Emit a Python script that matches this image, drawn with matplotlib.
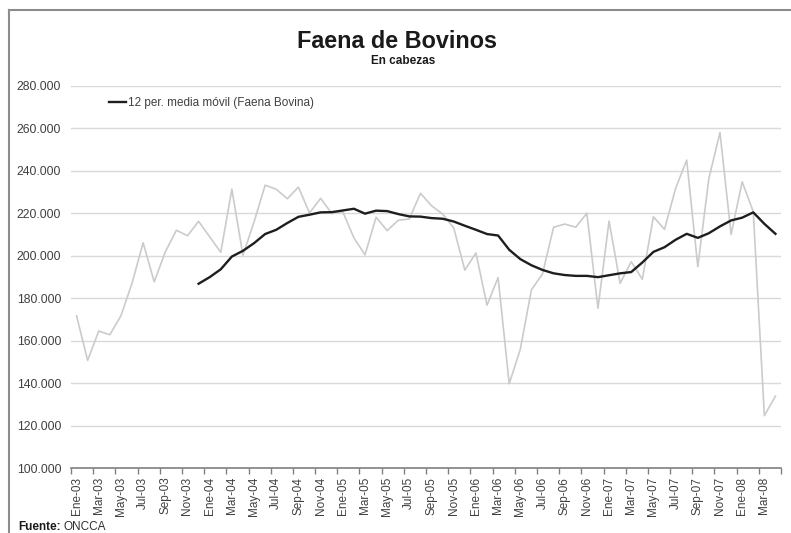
import matplotlib
matplotlib.use("Agg")
import matplotlib.pyplot as plt
from matplotlib.lines import Line2D
from matplotlib.ticker import FixedLocator, FuncFormatter, NullFormatter

plt.rcParams['font.family'] = ['Liberation Sans', 'DejaVu Sans']

months_es = ["Ene", "Feb", "Mar", "Abr", "May", "Jun", "Jul", "Ago", "Sep", "Oct", "Nov", "Dic"]
years = ["03", "04", "05", "06", "07", "08"]
categories = [f"{m}-{y}" for y in years for m in months_es][:64]  # Ene-03 .. Abr-08

# Faena Bovina (miles de cabezas)
faena = [171.8, 150.8, 164.6, 162.9, 171.8, 187.1, 206.2, 187.8, 201.9, 212.1, 209.5, 216.3,
         209.0, 201.7, 231.4, 200.3, 216.0, 233.3, 231.4, 226.9, 232.4, 220.2, 227.1, 220.0,
         220.8, 208.5, 200.5, 218.2, 211.9, 216.8, 217.4, 229.5, 223.6, 219.7, 213.2, 193.3,
         201.4, 176.8, 189.8, 139.8, 156.0, 184.0, 191.5, 213.5, 215.0, 213.5, 220.1, 175.3,
         216.4, 187.1, 197.3, 189.0, 218.4, 212.5, 231.8, 245.1, 194.9, 236.5, 258.1, 210.1,
         234.9, 220.8, 124.8, 134.0]

# 12 per. media móvil (starts at Dic-03)
media_movil = [186.9, 190.0, 193.7, 199.7, 202.4, 206.0, 210.3, 212.3, 215.5, 218.4, 219.4, 220.5,
               220.6, 221.4, 222.2, 219.9, 221.3, 221.1, 219.7, 218.6, 218.5, 217.8, 217.5, 216.2,
               214.2, 212.3, 210.3, 209.6, 202.9, 198.5, 195.6, 193.4, 191.8, 191.0, 190.6, 190.6,
               190.0, 190.9, 191.8, 192.4, 196.9, 201.9, 204.1, 207.6, 210.4, 208.5, 210.7, 213.9,
               216.7, 218.0, 220.5, 215.1, 210.4]

y_ticks = [100, 120, 140, 160, 180, 200, 220, 240, 260, 280]

W, H = 791, 533
fig = plt.figure(figsize=(W / 100, H / 100), dpi=100)
fig.patch.set_facecolor("white")

ax_l, ax_r, ax_t, ax_b = 71, 781, 86, 468.3
ax = fig.add_axes([ax_l / W, 1 - ax_b / H, (ax_r - ax_l) / W, (ax_b - ax_t) / H])

x = list(range(len(faena)))
ax.plot(x, faena, color="#cbcbcb", lw=1.2, zorder=2)
start = len(faena) - len(media_movil)
ma_line, = ax.plot(list(range(start, len(faena))), media_movil, color="#1e1e1e", lw=1.7, zorder=3,
                   label="12 per. media móvil (Faena Bovina)")

ax.set_xlim(-0.5, len(faena) - 0.5)
ax.set_ylim(100, 280)

ax.yaxis.set_major_locator(FixedLocator(y_ticks))
ax.yaxis.set_major_formatter(FuncFormatter(lambda v, p: f"{int(round(v * 1000)):,}".replace(",", ".")))
ax.grid(axis="y", color="#d9d9d9", lw=1.0, zorder=0)
ax.tick_params(axis="y", length=0, pad=7, labelsize=8.8, labelcolor="#404040")

# x ticks: marks between categories every 2 months, labels centred on categories
ax.xaxis.set_major_locator(FixedLocator([-0.5 + 2 * k for k in range(33)]))
ax.xaxis.set_major_formatter(NullFormatter())
lab_pos = list(range(0, len(faena), 2))
ax.xaxis.set_minor_locator(FixedLocator(lab_pos))
ax.set_xticklabels([categories[i] for i in lab_pos], minor=True)
ax.tick_params(axis="x", which="major", length=4, color="#808080", width=1)
ax.tick_params(axis="x", which="minor", length=0, pad=6, labelsize=8.5, labelcolor="#404040",
               labelrotation=90)

for s in ["top", "right", "left"]:
    ax.spines[s].set_visible(False)
ax.spines["bottom"].set_color("#808080")
ax.spines["bottom"].set_linewidth(1.2)

leg = ax.legend(handles=[ma_line], loc="center left", bbox_to_anchor=(0.0465, 0.955), frameon=False,
                fontsize=8.5, handlelength=1.45, handletextpad=0.2, borderaxespad=0)
for t in leg.get_texts():
    t.set_color("#404040")

fig.text(397 / W, 1 - 42 / H, "Faena de Bovinos", ha="center", va="center", fontsize=16.8,
         fontweight="bold", color="#1a1a1a")
fig.text(403 / W, 1 - 61 / H, "En cabezas", ha="center", va="center", fontsize=8.5,
         fontweight="bold", color="#1a1a1a")

t1 = fig.text(18 / W, 1 - 527 / H, "Fuente:", ha="left", va="center", fontsize=8.5,
              fontweight="bold", color="#1a1a1a")
fig.canvas.draw()
bb = t1.get_window_extent()
fig.text((bb.x1 + 3) / W, 1 - 527 / H, "ONCCA", ha="left", va="center", fontsize=8.5, color="#303030")

# chart frame (left and top edges visible)
fig.add_artist(Line2D([8.5 / W, 8.5 / W], [0, 1 - 10 / H], transform=fig.transFigure,
                      color="#8c8c8c", lw=1.5))
fig.add_artist(Line2D([8.5 / W, 1], [1 - 10 / H, 1 - 10 / H], transform=fig.transFigure,
                      color="#8c8c8c", lw=1.5))

fig.savefig("out.png", dpi=100)
